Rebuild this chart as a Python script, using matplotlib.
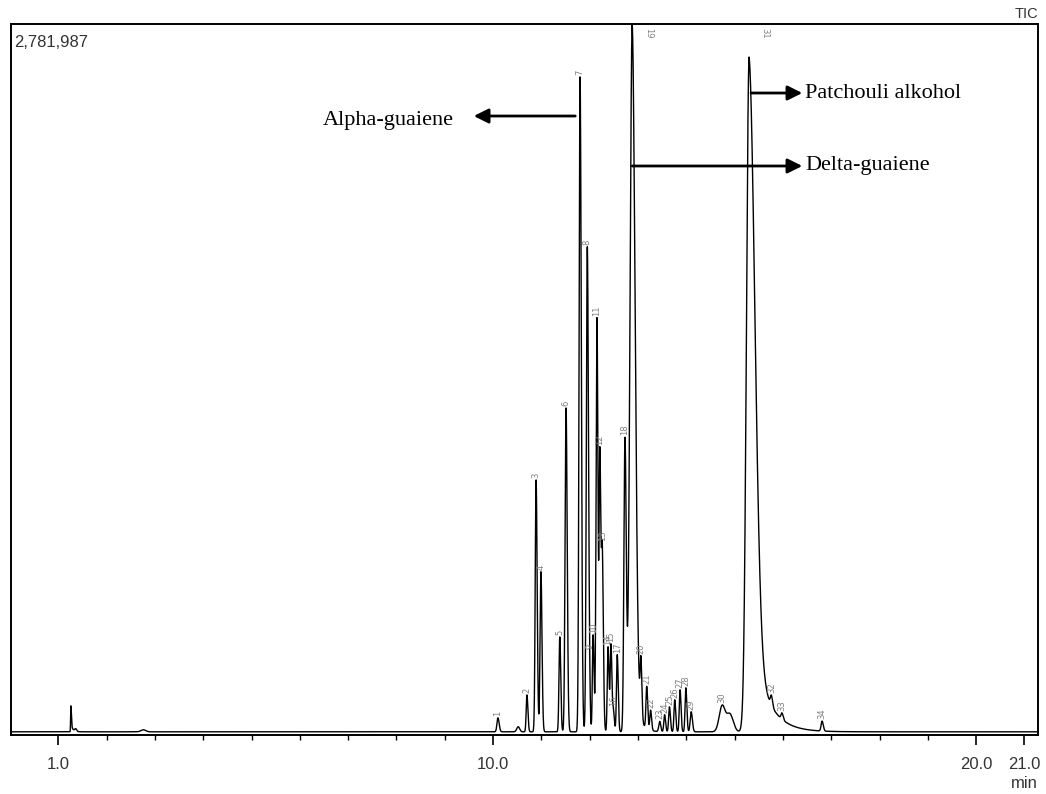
import numpy as np
import matplotlib
matplotlib.use("Agg")
import matplotlib.pyplot as plt

# Total ion chromatogram, full scale of the run
full_scale = 2781987

# Peak table: label, retention time (min), apex intensity, shape
peak_labels = ["", "", "", "1", "", "2", "3", "4", "5", "6", "7", "8", "9",
               "10", "11", "12", "13", "14", "15", "16", "17", "18", "19",
               "20", "21", "22", "23", "24", "25", "26", "27", "28", "29",
               "30", "", "31", "32", "33", "34"]
retention = [1.26, 1.36, 2.76, 10.10, 10.52, 10.70, 10.89, 10.99, 11.38,
             11.51, 11.80, 11.95, 12.00, 12.07, 12.15, 12.21, 12.26, 12.38,
             12.44, 12.49, 12.57, 12.73, 12.88, 13.06, 13.18, 13.26, 13.45,
             13.55, 13.65, 13.76, 13.87, 13.99, 14.10, 14.74, 14.90, 15.30,
             15.76, 15.98, 16.81]
intensity = [102000, 10000, 8000, 55000, 20000, 145000, 990000, 629000,
             373000, 1273000, 2574000, 1906000, 60000, 381000, 1627000,
             1088000, 695000, 334000, 342000, 79000, 303000, 1147000,
             2781987, 224000, 165000, 79000, 40000, 67000, 98000, 126000,
             165000, 173000, 79000, 100000, 70000, 2652000, 40000, 25000,
             39000]
sigma_left = [0.006, 0.02, 0.05, 0.02, 0.03, 0.015, 0.018, 0.018, 0.016,
              0.02, 0.02, 0.02, 0.015, 0.015, 0.018, 0.016, 0.018, 0.016,
              0.016, 0.015, 0.016, 0.022, 0.045, 0.016, 0.016, 0.016, 0.02,
              0.016, 0.016, 0.016, 0.016, 0.016, 0.02, 0.06, 0.07, 0.055,
              0.02, 0.02, 0.02]
sigma_right = [0.010, 0.02, 0.05, 0.025, 0.03, 0.02, 0.022, 0.022, 0.02,
               0.024, 0.026, 0.025, 0.015, 0.02, 0.02, 0.02, 0.022, 0.02,
               0.02, 0.02, 0.02, 0.026, 0.06, 0.02, 0.02, 0.02, 0.02, 0.02,
               0.02, 0.02, 0.02, 0.02, 0.025, 0.06, 0.07, 0.12, 0.025,
               0.025, 0.025]
tail_share = [0.3, 0, 0, 0, 0, 0, 0, 0, 0, 0, 0, 0, 0, 0, 0, 0, 0, 0, 0, 0,
              0, 0, 0.1, 0, 0, 0, 0, 0, 0, 0, 0, 0, 0, 0, 0, 0.18, 0, 0, 0]
tail_decay = [0.04, 1, 1, 1, 1, 1, 1, 1, 1, 1, 1, 1, 1, 1, 1, 1, 1, 1, 1, 1,
              1, 1, 0.1, 1, 1, 1, 1, 1, 1, 1, 1, 1, 1, 1, 1, 0.3, 1, 1, 1]

x_ticks = [1.0, 10.0, 20.0, 21.0]


def peak_shape(t, rt, h, sl, sr, a, tau):
    d = t - rt
    left = np.exp(-0.5 * (d / sl) ** 2)
    right = (1 - a) * np.exp(-0.5 * (d / sr) ** 2) + a * np.exp(-np.clip(d, 0, None) / tau)
    return h * np.where(d < 0, left, right)


t = np.arange(0.0, 21.3, 0.002)
signal = np.zeros_like(t)
for rt, h, sl, sr, a, tau in zip(retention, intensity, sigma_left,
                                 sigma_right, tail_share, tail_decay):
    signal += peak_shape(t, rt, h, sl, sr, a, tau)

fig = plt.figure(figsize=(10.46, 7.94), dpi=100)
ax = fig.add_axes((11 / 1046, 1 - 735 / 794, 1027 / 1046, 711 / 794))
ax.plot(t, signal, color="black", lw=1.0)
ax.set_xlim(0.02, 21.28)
ax.set_ylim(-0.0045 * full_scale, full_scale)

for sp in ax.spines.values():
    sp.set_linewidth(1.4)

ax.set_yticks([])
ax.set_xticks(x_ticks)
ax.set_xticklabels([f"{v:.1f}" for v in x_ticks], family="Liberation Sans",
                   fontsize=12, color="#333333")
ax.set_xticks(np.arange(1, 22), minor=True)
ax.tick_params(axis="x", which="major", length=7, width=1.2, pad=9)
ax.tick_params(axis="x", which="minor", length=3.5, width=1.0)

# peak numbers over each apex
for lab, rt in zip(peak_labels, retention):
    if not lab:
        continue
    top = np.interp(rt, t, signal)
    if top > 0.95 * full_scale:
        ax.text(rt + 0.33, 0.995 * full_scale, lab, rotation=270, ha="center",
                va="top", fontsize=6, color="#808080")
    else:
        ax.annotate(lab, (rt, top), xytext=(0, 1.5), textcoords="offset points",
                    rotation=90, ha="center", va="bottom", fontsize=6,
                    color="#808080")

ax.text(0.003, 0.985, "2,781,987", transform=ax.transAxes, ha="left", va="top",
        family="Liberation Sans", fontsize=12, color="#333333")
ax.text(1.0, 1.004, "TIC", transform=ax.transAxes, ha="right", va="bottom",
        family="Liberation Sans", fontsize=10.5, color="#333333")
fig.text(1038 / 1046, 1 - 791 / 794, "min", ha="right", va="bottom",
         family="Liberation Sans", fontsize=12, color="#333333")

arrow = dict(arrowstyle="-|>", lw=2.0, color="black", mutation_scale=22,
             shrinkA=0, shrinkB=0)
ax.annotate("", xy=(9.60, 0.870 * full_scale), xytext=(11.70, 0.870 * full_scale),
            arrowprops=arrow)
ax.text(9.18, 0.864 * full_scale, "Alpha-guaiene", ha="right", va="center",
        family="Liberation Serif", fontsize=16)
ax.annotate("", xy=(16.40, 0.9025 * full_scale), xytext=(15.34, 0.9025 * full_scale),
            arrowprops=arrow)
ax.text(16.46, 0.9025 * full_scale, "Patchouli alkohol", ha="left", va="center",
        family="Liberation Serif", fontsize=16)
ax.annotate("", xy=(16.40, 0.7994 * full_scale), xytext=(12.88, 0.7994 * full_scale),
            arrowprops=arrow)
ax.text(16.46, 0.7994 * full_scale, "Delta-guaiene", ha="left", va="center",
        family="Liberation Serif", fontsize=16)

fig.savefig("out.png", dpi=100)
